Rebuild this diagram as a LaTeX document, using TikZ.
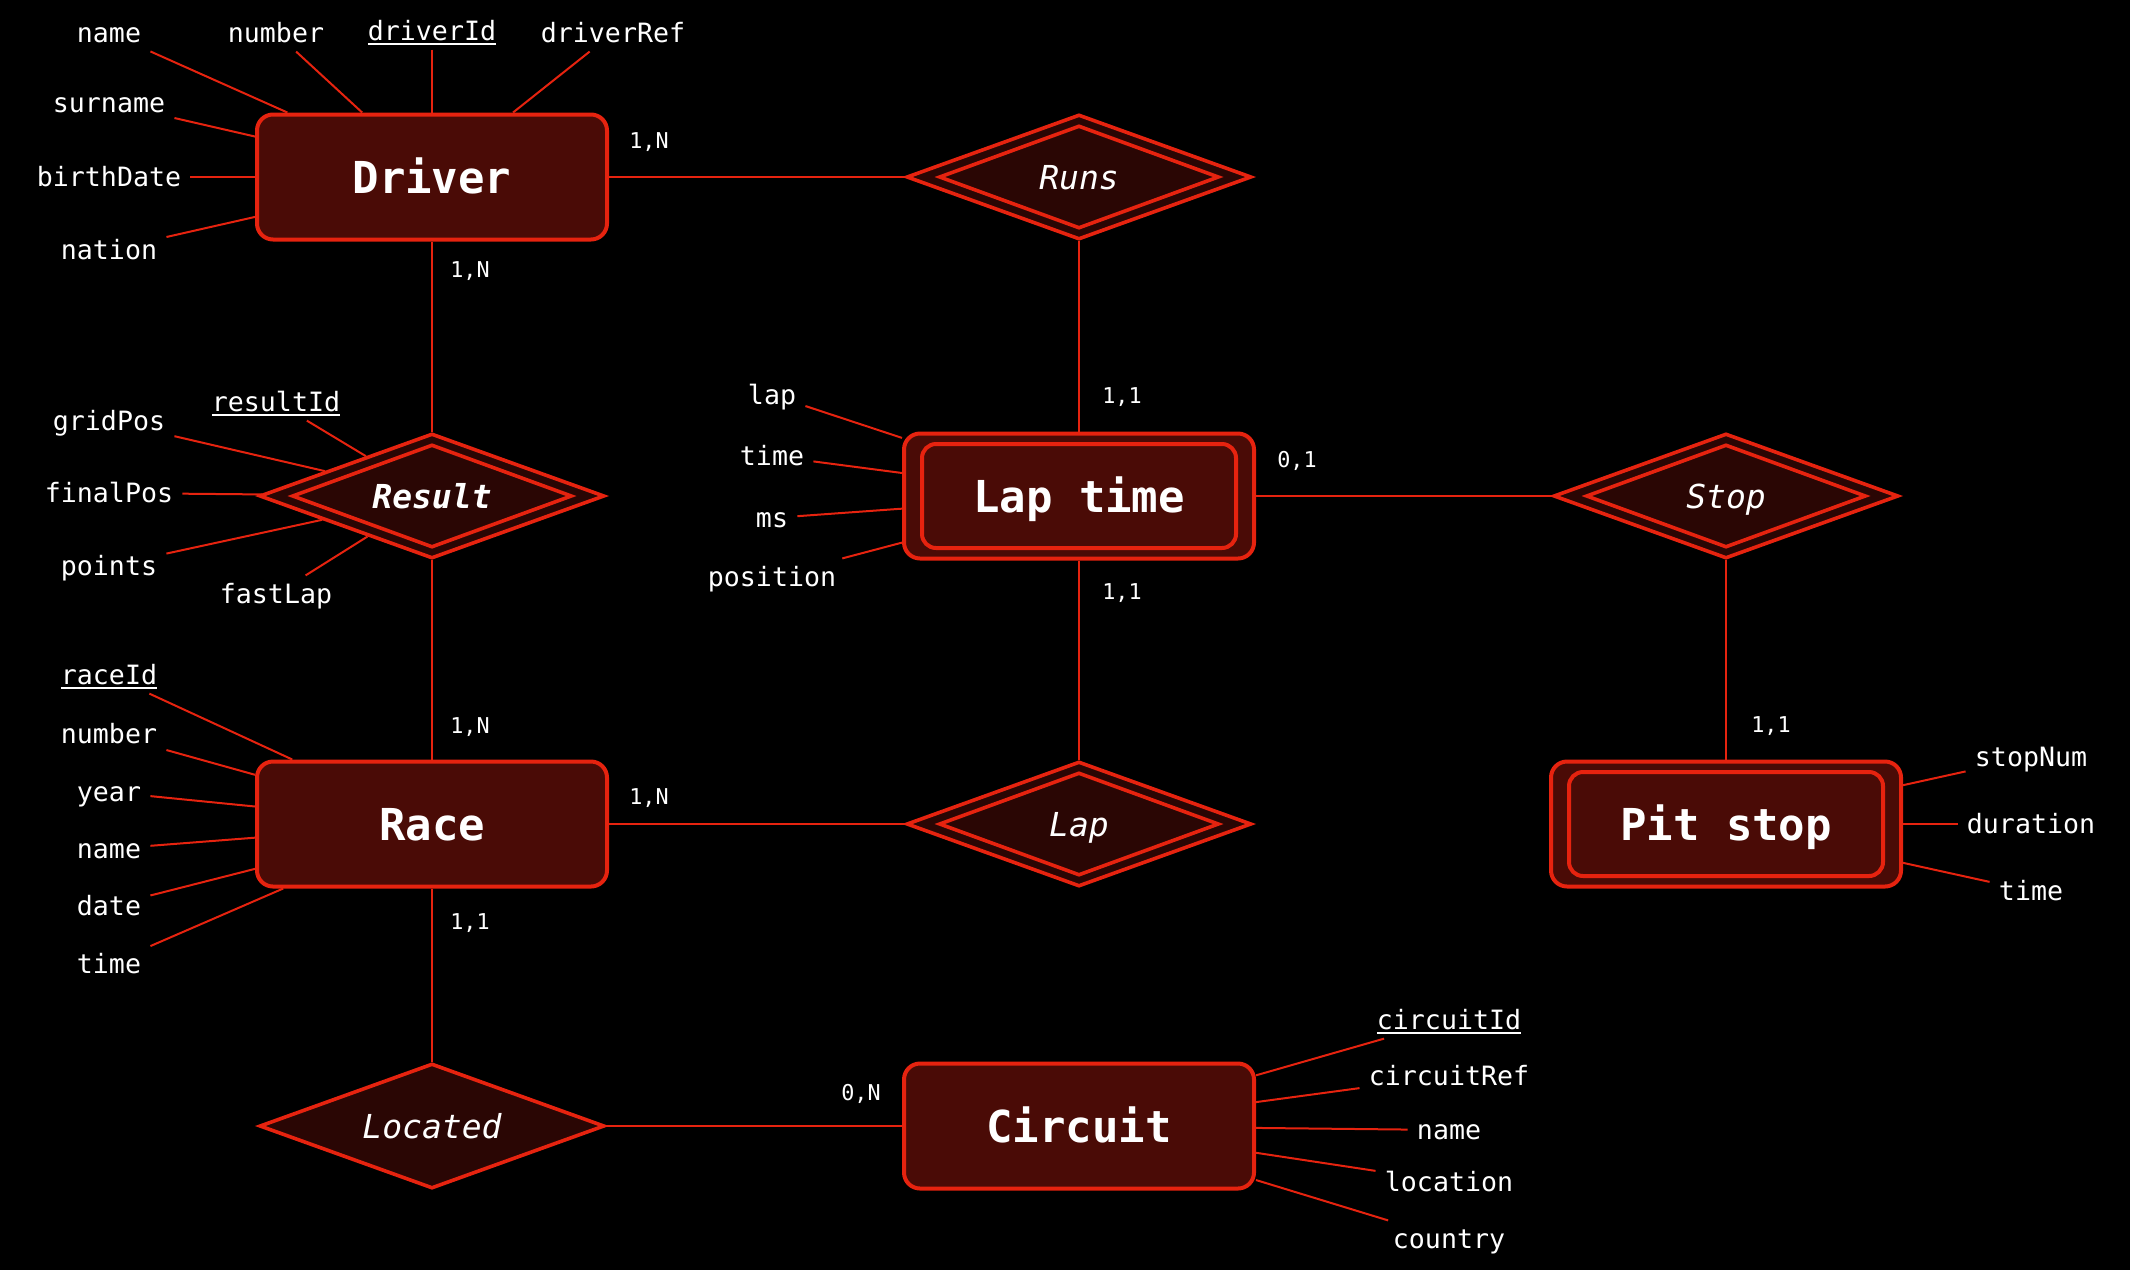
\documentclass[tikz,border=0pt]{standalone}
\usepackage{fontspec}
\newfontfamily\dvm{DejaVu Sans Mono}
\usetikzlibrary{shapes.geometric}
\definecolor{erred}{HTML}{E6230F}
\definecolor{entfill}{HTML}{4A0B06}
\definecolor{relfill}{HTML}{2A0604}
\newcommand\keyul[1]{\vtop{\hbox{#1}\kern1.3pt\hrule height 0.9pt}}
\begin{document}
\begin{tikzpicture}[x=0.5pt,y=-0.5pt,
 entity/.style={draw=erred, line width=2pt, fill=entfill, rounded corners=8pt, minimum width=175pt, minimum height=62.5pt, text=white, font=\dvm\bfseries\fontsize{22}{26}\selectfont, inner sep=0pt, text height=16pt, text depth=0pt},
 weakin/.style={draw=erred, line width=2pt, rounded corners=7pt, minimum width=157pt, minimum height=52pt, inner sep=0pt},
 rel/.style={diamond, aspect=2.76, draw=erred, line width=1.8pt, fill=relfill, minimum width=172.5pt, minimum height=62.5pt, inner sep=0pt, text=white, font=\dvm\itshape\fontsize{16.5}{20}\selectfont, text height=12pt, text depth=0pt},
 relin/.style={diamond, draw=erred, line width=1.8pt, minimum width=140pt, minimum height=51.5pt, inner sep=0pt},
 attr/.style={text=white, font=\dvm\fontsize{13.3}{16}\selectfont, inner sep=4.5pt, text height=9.2pt, text depth=0pt},
 card/.style={text=white, font=\dvm\fontsize{10.9}{13}\selectfont, inner sep=1pt, yshift=-1.2pt},
 link/.style={draw=erred, line width=1pt},
 aline/.style={draw=erred, line width=1pt}]
\fill[black] (0,0) rectangle (2130,1270);
\useasboundingbox (0,0) rectangle (2130,1270);

% entities
\node[entity] (driver) at (432,177) {Driver};
\node[entity] (race) at (432,824) {Race};
\node[entity] (laptime) at (1079,496) {Lap time};
\node[weakin] (laptimeI) at (1079,496) {};
\node[entity] (pitstop) at (1726,824) {Pit stop};
\node[weakin] (pitstopI) at (1726,824) {};
\node[entity] (circuit) at (1079,1126) {Circuit};

% relationships
\node[rel] (runs) at (1079,177) {Runs};
\node[relin] (runsI) at (1079,177) {};
\node[rel, font=\dvm\bfseries\itshape\fontsize{16.5}{20}\selectfont] (result) at (432,496) {Result};
\node[relin] (resultI) at (432,496) {};
\node[rel] (stop) at (1726,496) {Stop};
\node[relin] (stopI) at (1726,496) {};
\node[rel] (lap) at (1079,824) {Lap};
\node[relin] (lapI) at (1079,824) {};
\node[rel] (located) at (432,1126) {Located};

% connectors
\draw[link] (driver) -- (runs);
\draw[link] (driver) -- (result);
\draw[link] (result) -- (race);
\draw[link] (runs) -- (laptime);
\draw[link] (laptime) -- (stop);
\draw[link] (stop) -- (pitstop);
\draw[link] (laptime) -- (lap);
\draw[link] (race) -- (lap);
\draw[link] (race) -- (located);
\draw[link] (located) -- (circuit);

% cardinalities
\node[card] (c1) at (649,140) {1,N};
\node[card] (c2) at (470,269) {1,N};
\node[card] (c3) at (1122,395) {1,1};
\node[card] (c4) at (1297,459) {0,1};
\node[card] (c5) at (1122,591) {1,1};
\node[card] (c6) at (470,725) {1,N};
\node[card] (c7) at (649,796) {1,N};
\node[card] (c8) at (470,921) {1,1};
\node[card] (c9) at (861,1092) {0,N};
\node[card] (c10) at (1771,724) {1,1};

% Driver attributes
\node[attr] (dname) at (109,33) {name};
\node[attr] (dnum) at (276,33) {number};
\node[attr] (did) at (432,31) {\keyul{driverId}};
\node[attr] (dref) at (613,33) {driverRef};
\node[attr] (dsur) at (109,103) {surname};
\node[attr] (dbirth) at (109,177) {birthDate};
\node[attr] (dnat) at (109,250) {nation};
\foreach \a in {dname,dnum,did,dref,dsur,dbirth,dnat} \draw[aline] (\a) -- (driver);

% Result attributes
\node[attr] (rid) at (276,402) {\keyul{resultId}};
\node[attr] (rgrid) at (109,421) {gridPos};
\node[attr] (rfinal) at (109,493) {finalPos};
\node[attr] (rpts) at (109,566) {points};
\node[attr] (rfast) at (276,594) {fastLap};
\foreach \a in {rid,rgrid,rfinal,rpts,rfast} \draw[aline] (\a) -- (result);

% Lap time attributes
\node[attr] (llap) at (772,395) {lap};
\node[attr] (ltime) at (772,456) {time};
\node[attr] (lms) at (772,518) {ms};
\node[attr] (lpos) at (772,577) {position};
\foreach \a in {llap,ltime,lms,lpos} \draw[aline] (\a) -- (laptime);

% Race attributes
\node[attr] (raid) at (109,675) {\keyul{raceId}};
\node[attr] (ranum) at (109,734) {number};
\node[attr] (rayear) at (109,792) {year};
\node[attr] (raname) at (109,849) {name};
\node[attr] (radate) at (109,906) {date};
\node[attr] (ratime) at (109,964) {time};
\foreach \a in {raid,ranum,rayear,raname,radate,ratime} \draw[aline] (\a) -- (race);

% Pit stop attributes
\node[attr] (pnum) at (2031,757) {stopNum};
\node[attr] (pdur) at (2031,824) {duration};
\node[attr] (ptime) at (2031,891) {time};
\foreach \a in {pnum,pdur,ptime} \draw[aline] (\a) -- (pitstop);

% Circuit attributes
\node[attr] (cid) at (1449,1020) {\keyul{circuitId}};
\node[attr] (cref) at (1449,1076) {circuitRef};
\node[attr] (cname) at (1449,1130) {name};
\node[attr] (cloc) at (1449,1182) {location};
\node[attr] (ccountry) at (1449,1239) {country};
\foreach \a in {cid,cref,cname,cloc,ccountry} \draw[aline] (\a) -- (circuit);
\end{tikzpicture}
\end{document}
